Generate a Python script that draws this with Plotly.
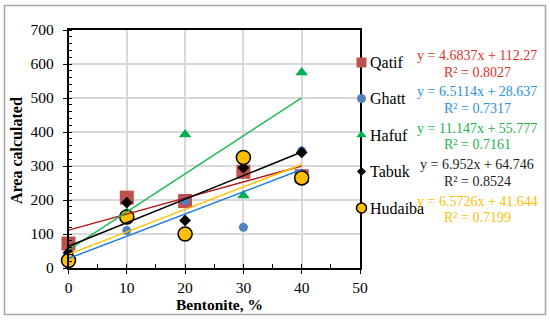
import numpy as np
import plotly.graph_objects as go

bentonite = [0, 10, 20, 30, 40]
qatif = [72, 207, 197, 283, 270]
ghatt = [22, 110, 198, 120, 344]
hafuf = [42, 162, 393, 213, 575]
tabuk = [45, 192, 140, 295, 340]
hudaiba = [22, 150, 100, 325, 265]

names = ["Qatif", "Ghatt", "Hafuf", "Tabuk", "Hudaiba"]
equations = ["y = 4.6837x + 112.27", "y = 6.5114x + 28.637", "y = 11.147x + 55.777",
             "y = 6.952x + 64.746", "y = 6.5726x + 41.644"]
r2_texts = ["R² = 0.8027", "R² = 0.7317", "R² = 0.7161", "R² = 0.8524", "R² = 0.7199"]
x_title = "Bentonite, %"
y_title = "Area calculated"

series = [qatif, ghatt, hafuf, tabuk, hudaiba]
marker_colors = ["#C0504D", "#4F81BD", "#00B050", "#000000", "#FFC000"]
line_colors = ["#B01818", "#1F7FD6", "#1DB954", "#000000", "#FFC000"]
text_colors = ["#E03228", "#2E8FDD", "#22B14C", "#222222", "#FFC000"]
symbols = ["square", "circle", "triangle-up", "diamond", "circle"]
sizes = [14, 9, 11, 9, 14]
outline_w = [0, 0, 0, 0, 1.5]

FONT = "Liberation Serif, serif"
W, H = 550, 324
# plot area in pixels
PL, PR, PT, PB = 68.5, 360, 30, 268


def fx(x):
    return x / W


def fy(y):
    return (H - y) / H


fig = go.Figure()

# markers
for i, (n, s) in enumerate(zip(names, series)):
    fig.add_trace(go.Scatter(
        x=bentonite, y=s, mode="markers", name=n, showlegend=False,
        marker=dict(symbol=symbols[i], size=sizes[i], color=marker_colors[i],
                    line=dict(color="#000000", width=outline_w[i])),
        cliponaxis=False))

# trendlines
for i, s in enumerate(series):
    k, b0 = np.polyfit(bentonite, s, 1)
    xs = np.array([bentonite[0], bentonite[-1]])
    fig.add_trace(go.Scatter(x=xs, y=k * xs + b0, mode="lines", showlegend=False,
                             line=dict(color=line_colors[i], width=1.5), hoverinfo="skip"))

# custom legend (separate pixel axes covering whole figure)
leg_y = [62.5, 98.5, 135, 171.5, 208]
for i, n in enumerate(names):
    fig.add_trace(go.Scatter(
        x=[361.5], y=[leg_y[i]], xaxis="x2", yaxis="y2", mode="markers", showlegend=False,
        marker=dict(symbol=symbols[i], size=[10, 9, 9, 7, 10][i], color=marker_colors[i],
                    line=dict(color="#000000", width=outline_w[i])),
        cliponaxis=False, hoverinfo="skip"))
    fig.add_annotation(x=fx(368), y=fy(leg_y[i]), xref="paper", yref="paper", text=n,
                       showarrow=False, xanchor="left", yanchor="middle",
                       font=dict(family=FONT, size=16, color="#000000"))
    fig.add_annotation(x=fx(477), y=fy(leg_y[i] - 7), xref="paper", yref="paper", text=equations[i],
                       showarrow=False, xanchor="center", yanchor="middle",
                       font=dict(family=FONT, size=14, color=text_colors[i]))
    fig.add_annotation(x=fx(477), y=fy(leg_y[i] + 9.5), xref="paper", yref="paper", text=r2_texts[i],
                       showarrow=False, xanchor="center", yanchor="middle",
                       font=dict(family=FONT, size=14, color=text_colors[i]))

# axis titles
fig.add_annotation(x=fx(219), y=fy(304), xref="paper", yref="paper", text="<b>" + x_title + "</b>",
                   showarrow=False, xanchor="center", yanchor="middle",
                   font=dict(family=FONT, size=15.5, color="#000000"))
fig.add_annotation(x=fx(16), y=fy(151), xref="paper", yref="paper", text="<b>" + y_title + "</b>",
                   showarrow=False, xanchor="center", yanchor="middle", textangle=-90,
                   font=dict(family=FONT, size=16, color="#000000"))

# outer frame
fig.add_shape(type="rect", xref="paper", yref="paper",
              x0=fx(4.5), x1=fx(545.5), y0=fy(314.5), y1=fy(5.5),
              line=dict(color="#A6A6A6", width=1.5), layer="below")

fig.update_layout(
    width=W, height=H, margin=dict(l=0, r=0, t=0, b=0, autoexpand=False),
    paper_bgcolor="white", plot_bgcolor="rgba(0,0,0,0)",
    font=dict(family=FONT, size=16, color="#000000"),
    xaxis=dict(domain=[fx(PL), fx(PR)], range=[0, 50], dtick=10, tick0=0, automargin=False,
               showgrid=True, gridcolor="#D9D9D9", gridwidth=1.5,
               zeroline=False, showline=True, linecolor="#000000", linewidth=1.5, mirror=True,
               ticks="outside", ticklen=4, tickcolor="#000000", ticklabelstandoff=1,
               minor=dict(dtick=5, ticks="inside", ticklen=4, tickcolor="#000000", showgrid=False),
               tickfont=dict(family=FONT, size=15.5)),
    yaxis=dict(domain=[fy(PB), fy(PT)], range=[0, 700], dtick=100, tick0=0, automargin=False,
               showgrid=True, gridcolor="#D9D9D9", gridwidth=1.5,
               zeroline=False, showline=True, linecolor="#000000", linewidth=1.5, mirror=True,
               ticks="outside", ticklen=4, tickcolor="#000000", ticklabelstandoff=6,
               minor=dict(dtick=20, ticks="inside", ticklen=4, tickcolor="#000000", showgrid=False),
               tickfont=dict(family=FONT, size=15.5)),
    xaxis2=dict(anchor="y2", domain=[0, 1], range=[0, W], visible=False, fixedrange=True, automargin=False),
    yaxis2=dict(anchor="x2", domain=[0, 1], range=[H, 0], visible=False, fixedrange=True, automargin=False),
    showlegend=False,
)

fig.write_html("out.html", config={"displayModeBar": False},
               post_script="document.body.style.margin='0';document.body.style.overflow='hidden';")
